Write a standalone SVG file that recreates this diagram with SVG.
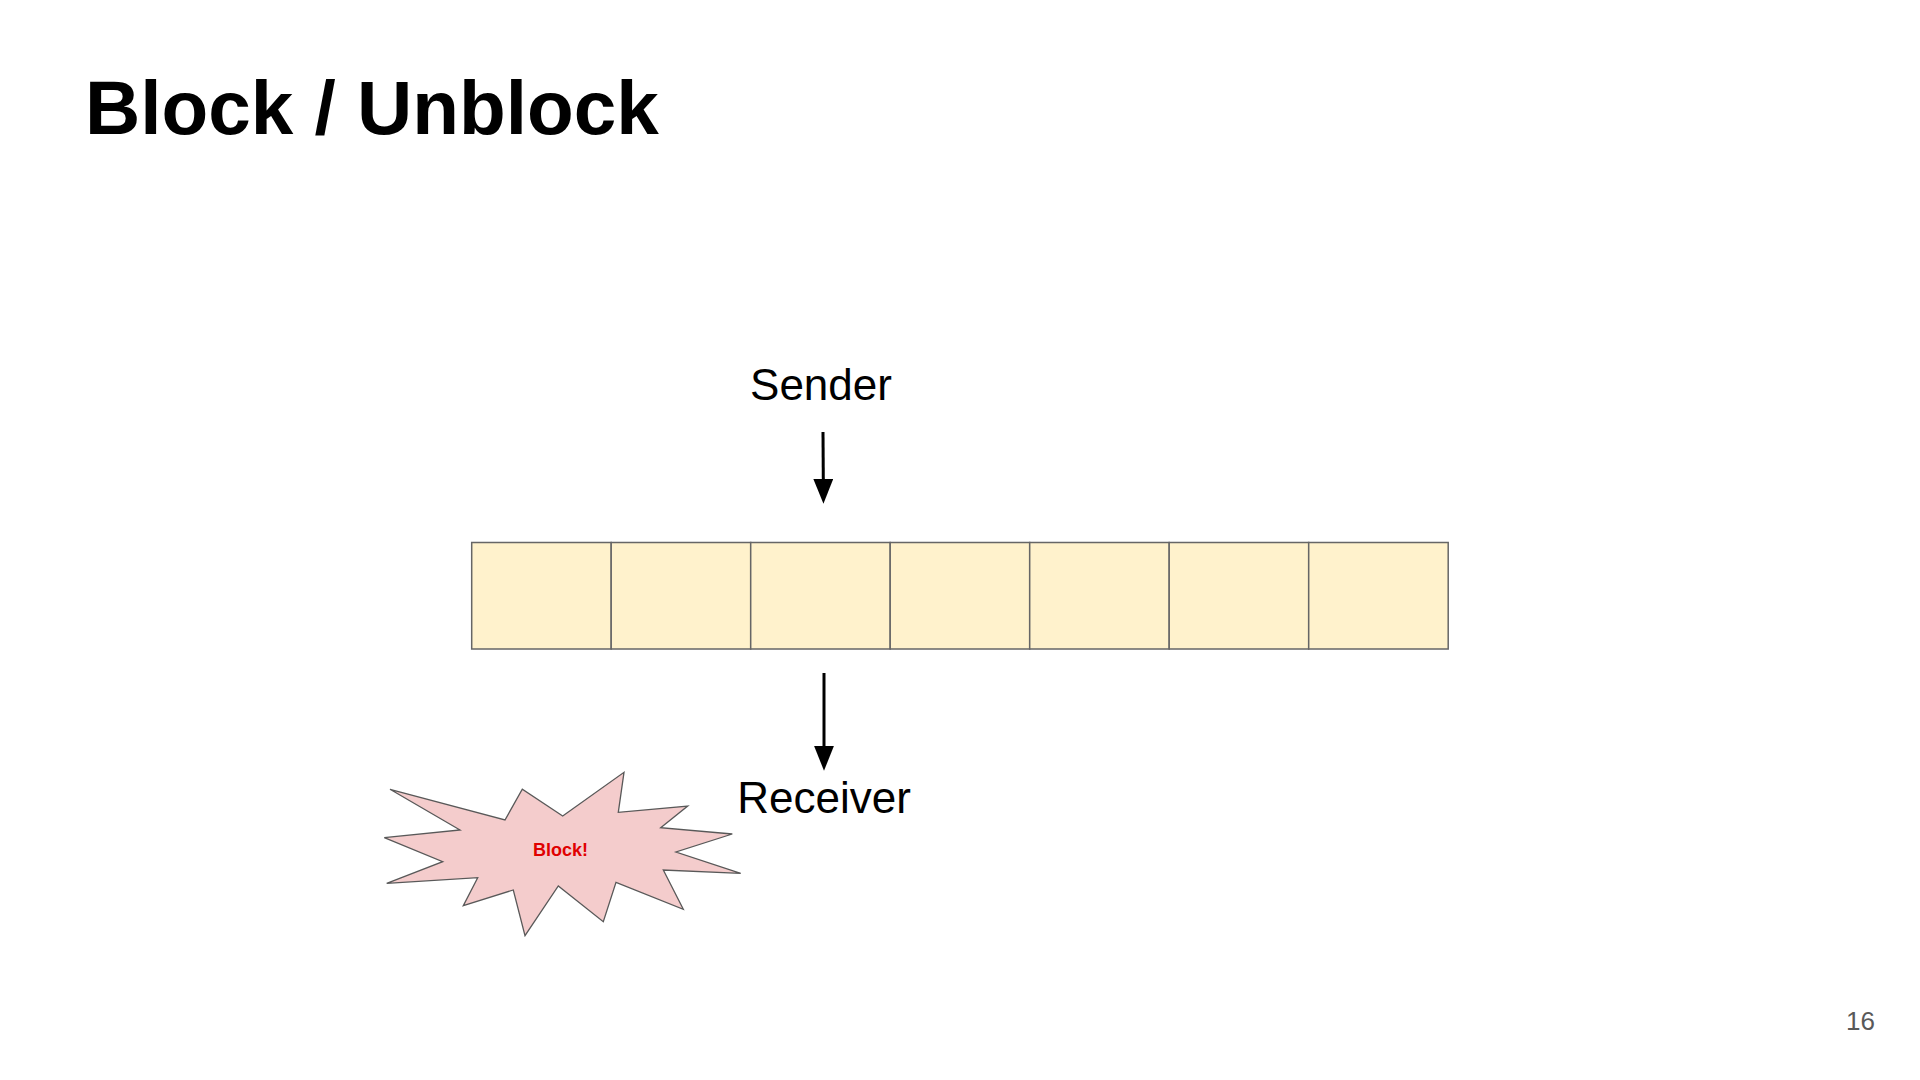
<svg xmlns="http://www.w3.org/2000/svg" width="1920" height="1080" viewBox="0 0 1920 1080">
<style>
.cell{fill:#fff2cc;stroke:#666666;stroke-width:1.5}
.lbl{font-family:"Liberation Sans",Arial,sans-serif;font-size:44px;fill:#000}
.conn{stroke:#000;stroke-width:3;fill:none}
</style>
<defs>
<marker id="ah" viewBox="0 0 10 10" refX="0.5" refY="5" markerUnits="userSpaceOnUse" markerWidth="25" markerHeight="20" orient="auto" preserveAspectRatio="none">
<path d="M0,0 L10,5 L0,10 Z" fill="#000"/>
</marker>
</defs>
<rect width="1920" height="1080" fill="#fff"/>
<text id="title" x="85" y="134" font-family="'Liberation Sans',Arial,sans-serif" font-weight="bold" font-size="76.5" fill="#000">Block / Unblock</text>
<g id="queue">
<rect class="cell" x="471.7" y="542.5" width="139.5" height="106.5"/>
<rect class="cell" x="611.2" y="542.5" width="139.5" height="106.5"/>
<rect class="cell" x="750.7" y="542.5" width="139.5" height="106.5"/>
<rect class="cell" x="890.2" y="542.5" width="139.5" height="106.5"/>
<rect class="cell" x="1029.7" y="542.5" width="139.5" height="106.5"/>
<rect class="cell" x="1169.2" y="542.5" width="139.5" height="106.5"/>
<rect class="cell" x="1308.7" y="542.5" width="139.5" height="106.5"/>
</g>
<g id="sender"><text class="lbl" x="821" y="400" text-anchor="middle">Sender</text></g>
<g id="receiver"><text class="lbl" x="824" y="813" text-anchor="middle">Receiver</text></g>
<g id="block">
<polygon points="390,789.3 505,820 522.3,789.3 562.7,816 624,772.3 618.3,812.3 687.7,806 660.7,827.7 732.3,834 676,852 740.7,873.3 663.3,870 683.3,909.3 616,882.3 603.3,921.7 558.3,886 525,935.7 513.3,890 463.3,905.7 477.7,877.7 386.7,883.3 442.7,861.7 384.3,837.7 460,830" fill="#f4cccc" stroke="#595959" stroke-width="1.3" stroke-linejoin="miter"/>
<text x="560.5" y="856" text-anchor="middle" font-family="'Liberation Sans',Arial,sans-serif" font-weight="bold" font-size="18" fill="#e00000">Block!</text>
</g>
<g id="connectors">
<line class="conn" x1="823" y1="432" x2="823.3" y2="480" marker-end="url(#ah)"/>
<line class="conn" x1="824" y1="673" x2="824" y2="747" marker-end="url(#ah)"/>
</g>
<text id="page" x="1846" y="1030" font-family="'Liberation Sans',Arial,sans-serif" font-size="26" fill="#595959">16</text>
</svg>
